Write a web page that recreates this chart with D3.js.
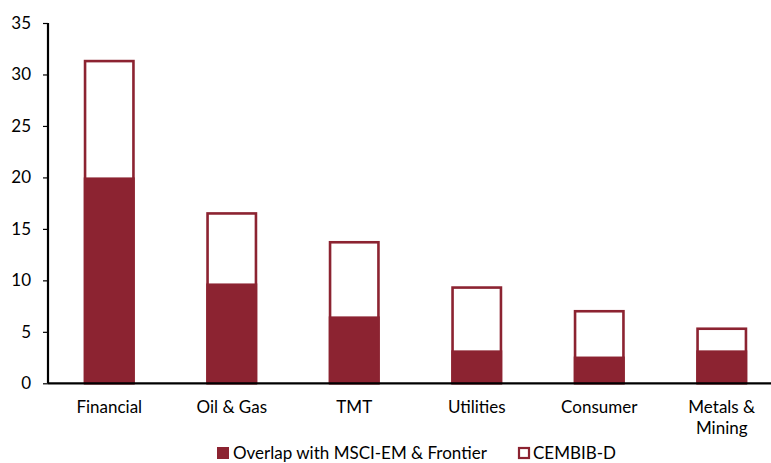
<!DOCTYPE html>
<html>
<head>
<meta charset="utf-8">
<script src="https://cdn.jsdelivr.net/npm/d3@7"></script>
<style>
  body { margin: 0; background: #fff; }
  svg { display: block; font-family: Lato, 'Open Sans', sans-serif; }
</style>
</head>
<body>
<div id="container"></div>
<script>
const sectors = ['Financial', 'Oil & Gas', 'TMT', 'Utilities', 'Consumer', 'Metals & Mining'];
const overlap = [20.0, 9.7, 6.5, 3.2, 2.6, 3.2];
const cembib = [31.3, 16.5, 13.7, 9.3, 7.0, 5.3];
const yTicks = [0, 5, 10, 15, 20, 25, 30, 35];
const seriesNames = ['Overlap with MSCI-EM & Frontier', 'CEMBIB-D'];

const red = '#8c2331';
const width = 771;
const height = 463;
const margin = { top: 23, left: 48, bottom: 80 };
const plotBottom = 383.3;
const fontSize = '17px';

const svg = d3.select('#container').append('svg')
  .attr('width', width)
  .attr('height', height);

const x = d3.scaleBand().domain(sectors).range([margin.left, margin.left + 6 * 122.5]);
const y = d3.scaleLinear().domain([0, 35]).range([plotBottom, margin.top]);
const barW = 51;
const sw = 2.6;

// hollow bars (CEMBIB-D total)
svg.append('g').selectAll('rect')
  .data(sectors).enter()
  .append('rect')
  .attr('x', (d) => x(d) + x.bandwidth() / 2 - barW / 2 + sw / 2)
  .attr('width', barW - sw)
  .attr('y', (d, i) => y(cembib[i]))
  .attr('height', (d, i) => y(0) - y(cembib[i]))
  .attr('fill', '#fff')
  .attr('stroke', red)
  .attr('stroke-width', sw);

// filled bars (overlap)
svg.append('g').selectAll('rect')
  .data(sectors).enter()
  .append('rect')
  .attr('x', (d) => x(d) + x.bandwidth() / 2 - barW / 2)
  .attr('width', barW)
  .attr('y', (d, i) => y(overlap[i]))
  .attr('height', (d, i) => y(0) - y(overlap[i]))
  .attr('fill', red);

// y axis
const yAxis = svg.append('g')
  .attr('transform', `translate(${margin.left}, 0)`)
  .call(d3.axisLeft(y).tickValues(yTicks).tickSize(5).tickPadding(12));
yAxis.select('.domain').attr('stroke', '#000').attr('stroke-width', 2.2).attr('d', `M0,${y(35)}V${y(0)}`);
yAxis.selectAll('.tick line').attr('stroke', '#000').attr('stroke-width', 1.2);
yAxis.selectAll('.tick text').style('font-size', fontSize).style('font-family', 'Lato, sans-serif').attr('fill', '#000');

// x axis
const xAxis = svg.append('g')
  .attr('transform', `translate(0, ${plotBottom})`)
  .call(d3.axisBottom(x).tickSize(0).tickPadding(0));
xAxis.select('.domain').attr('stroke', '#000').attr('stroke-width', 2.2).attr('d', `M${margin.left},0H${width}`);
xAxis.selectAll('.tick text').remove();

xAxis.selectAll('.tick').each(function (d) {
  const words = d === 'Metals & Mining' ? ['Metals &', 'Mining'] : [d];
  const t = d3.select(this).append('text')
    .attr('fill', '#000')
    .attr('text-anchor', 'middle')
    .style('font-size', fontSize)
    .style('font-family', 'Lato, sans-serif');
  words.forEach((w, i) => {
    t.append('tspan').attr('x', 0).attr('y', 30 + i * 21).text(w);
  });
});

// legend
const legend = svg.append('g').style('font-size', fontSize);
legend.append('rect').attr('x', 217).attr('y', 447).attr('width', 12).attr('height', 12).attr('fill', red);
legend.append('text').attr('x', 233).attr('y', 459).text(seriesNames[0]);
legend.append('rect').attr('x', 519).attr('y', 448).attr('width', 10).attr('height', 10)
  .attr('fill', '#fff').attr('stroke', red).attr('stroke-width', 2.2);
legend.append('text').attr('x', 533).attr('y', 459).text(seriesNames[1]);
</script>
</body>
</html>
